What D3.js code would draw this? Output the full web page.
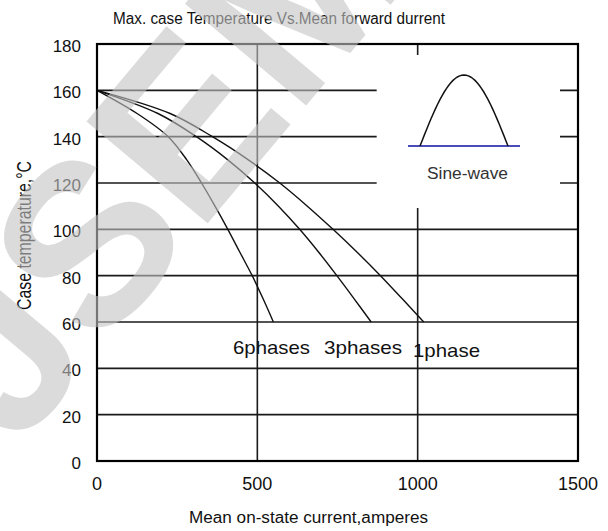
<!DOCTYPE html>
<html>
<head>
<meta charset="utf-8">
<script src="https://cdn.jsdelivr.net/npm/d3@7"></script>
<style>
  body { margin: 0; background: #fff; }
  svg { display: block; }
</style>
</head>
<body>
<div id="chart"></div>
<script>
// ---- data ----
var xTicks = [0, 500, 1000, 1500];
var yTicks = [0, 20, 40, 60, 80, 100, 120, 140, 160, 180];

// [mean current (A), case temperature (°C)]
var sixPhases = [[0,160],[125,150],[222,140],[280,130],[326,120],[368,110],[408,100],[446,90],[484,80],[518,70],[550,60]];
var threePhases = [[0,160],[190,150],[310,140],[408,130],[492,120],[566,110],[632,100],[692,90],[748,80],[802,70],[855,60]];
var onePhase = [[0,160],[228,150],[360,140],[472,130],[570,120],[656,110],[736,100],[812,90],[884,80],[952,70],[1019,60]];

var curveNames = ["6phases", "3phases", "1phase"];

// set the dimensions
var W = 608, H = 531;
var margin = {top: 44, right: 30, bottom: 70, left: 97},
width = W - margin.left - margin.right,
height = H - margin.top - margin.bottom;

// set the ranges
var x = d3.scaleLinear().domain([0, 1500]).range([0, width]);
var y = d3.scaleLinear().domain([0, 180]).range([height, 0]);

var narrow = "'Liberation Sans Narrow','Liberation Sans',Arial,sans-serif";
var sans = "'Liberation Sans',Arial,sans-serif";

var root = d3.select("#chart").append("svg")
   .attr("width", W)
   .attr("height", H);

var svg = root.append("g")
   .attr("transform", "translate(" + margin.left + "," + margin.top + ")");

// horizontal grid lines
svg.selectAll(".hgrid")
   .data(yTicks.filter(function(d) { return d > 0 && d < 180; }))
   .enter().append("line")
   .attr("class", "hgrid")
   .attr("x1", 0).attr("x2", width)
   .attr("y1", function(d) { return y(d); })
   .attr("y2", function(d) { return y(d); })
   .attr("stroke", "#1a1a1a")
   .attr("stroke-width", 1.6);

// vertical grid lines
svg.selectAll(".vgrid")
   .data(xTicks.filter(function(d) { return d > 0 && d < 1500; }))
   .enter().append("line")
   .attr("class", "vgrid")
   .attr("x1", function(d) { return x(d); })
   .attr("x2", function(d) { return x(d); })
   .attr("y1", 0).attr("y2", height)
   .attr("stroke", "#1a1a1a")
   .attr("stroke-width", 1.6);

// white inset box for the waveform sketch (hides part of the grid)
var inset = {x0: x(1000) - 41, x1: width - 18, y0: 11, y1: 164};
svg.append("rect")
   .attr("x", inset.x0)
   .attr("y", inset.y0)
   .attr("width", inset.x1 - inset.x0)
   .attr("height", inset.y1 - inset.y0)
   .attr("fill", "#fff");

// the curves
var line = d3.line()
   .x(function(d) { return x(d[0]); })
   .y(function(d) { return y(d[1]); })
   .curve(d3.curveCatmullRom.alpha(0.5));

svg.selectAll(".curve")
   .data([sixPhases, threePhases, onePhase])
   .enter().append("path")
   .attr("class", "curve")
   .attr("d", line)
   .attr("fill", "none")
   .attr("stroke", "#111")
   .attr("stroke-width", 1.4);

// plot frame
svg.append("rect")
   .attr("width", width)
   .attr("height", height)
   .attr("fill", "none")
   .attr("stroke", "#000")
   .attr("stroke-width", 2.2);

// Y tick labels
svg.selectAll(".ylab")
   .data(yTicks)
   .enter().append("text")
   .attr("class", "ylab")
   .attr("x", -16)
   .attr("y", function(d) { return y(d) + 8; })
   .attr("text-anchor", "end")
   .style("font-family", sans)
   .style("font-size", "17px")
   .attr("fill", "#111")
   .text(function(d) { return d; });

// X tick labels
svg.selectAll(".xlab")
   .data(xTicks)
   .enter().append("text")
   .attr("class", "xlab")
   .attr("x", function(d) { return x(d); })
   .attr("y", height + 29)
   .attr("text-anchor", "middle")
   .style("font-family", sans)
   .style("font-size", "18px")
   .attr("fill", "#111")
   .text(function(d) { return d; });

// curve labels
var labelPos = [[233, 354, 77], [324, 354, 78], [413, 357, 67]];
root.selectAll(".clab")
   .data(curveNames)
   .enter().append("text")
   .attr("class", "clab")
   .attr("x", function(d, i) { return labelPos[i][0]; })
   .attr("y", function(d, i) { return labelPos[i][1]; })
   .attr("textLength", function(d, i) { return labelPos[i][2]; })
   .attr("lengthAdjust", "spacingAndGlyphs")
   .style("font-family", sans)
   .style("font-size", "19px")
   .attr("fill", "#111")
   .text(function(d) { return d; });

// sine-wave sketch in the inset (just an icon)
var sx0 = 420, sx1 = 508, sBase = 146, sTop = 75;
var sinePts = d3.range(0, 41).map(function(k) {
   var t = k / 40;
   return [sx0 + t * (sx1 - sx0), sBase - Math.sin(Math.PI * t) * (sBase - sTop)];
});
root.append("line")
   .attr("x1", 408).attr("x2", 520)
   .attr("y1", sBase).attr("y2", sBase)
   .attr("stroke", "#1010a0")
   .attr("stroke-width", 1.3);
root.append("path")
   .attr("d", d3.line()(sinePts))
   .attr("fill", "none")
   .attr("stroke", "#111")
   .attr("stroke-width", 1.5);
root.append("text")
   .attr("x", 427)
   .attr("y", 179)
   .attr("textLength", 81)
   .attr("lengthAdjust", "spacingAndGlyphs")
   .style("font-family", sans)
   .style("font-size", "16px")
   .attr("fill", "#333")
   .text("Sine-wave");

// title
root.append("text")
   .attr("x", 113)
   .attr("y", 24)
   .attr("textLength", 332)
   .attr("lengthAdjust", "spacingAndGlyphs")
   .style("font-family", narrow)
   .style("font-size", "16px")
   .attr("fill", "#111")
   .text("Max. case Temperature Vs.Mean forward durrent");

// X axis title
root.append("text")
   .attr("x", 189)
   .attr("y", 523)
   .attr("textLength", 239)
   .attr("lengthAdjust", "spacingAndGlyphs")
   .style("font-family", narrow)
   .style("font-size", "16px")
   .attr("fill", "#111")
   .text("Mean on-state  current,amperes");

// Y axis title
root.append("text")
   .attr("transform", "translate(31,310) rotate(-90)")
   .attr("x", 0)
   .attr("y", 0)
   .attr("textLength", 149)
   .attr("lengthAdjust", "spacingAndGlyphs")
   .style("font-family", narrow)
   .style("font-size", "20px")
   .attr("fill", "#111")
   .text("Case temperature,°C");

// watermark
root.append("text")
   .attr("transform", "translate(85,240) rotate(-50)")
   .attr("x", -205)
   .attr("y", 83)
   .style("font-family", sans)
   .style("font-weight", "bold")
   .style("font-size", "230px")
   .attr("fill", "#c4c4c4")
   .attr("opacity", 0.6)
   .text("JSEMI");
</script>
</body>
</html>
